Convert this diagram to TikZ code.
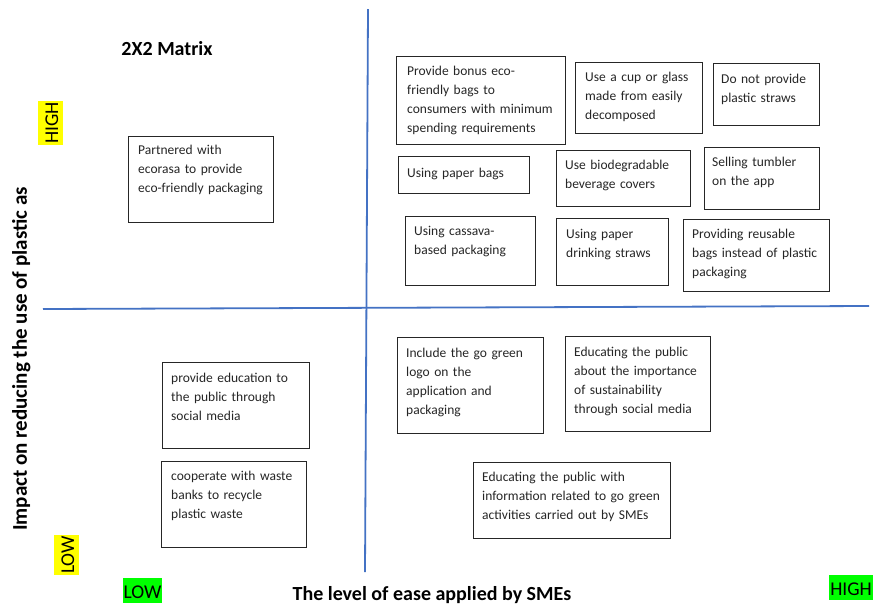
\documentclass[tikz,border=0pt]{standalone}
\usepackage{fontspec}
\setmainfont{Carlito}
\definecolor{axisblue}{HTML}{4472C4}
\definecolor{hlyellow}{HTML}{FFFF00}
\definecolor{hlgreen}{HTML}{00FF00}
\tikzset{
  card/.style={draw=black!85, line width=1pt, inner sep=0pt, anchor=north west, fill=white},
  cardtext/.style={anchor=base west, inner sep=0pt, align=left, text width=#1,
    font=\fontsize{13.5}{19.3}\selectfont, text=black!85},
  axisline/.style={draw=axisblue, line width=1.8pt},
  hl/.style={fill=#1, inner xsep=1pt, inner ysep=0pt, text height=20pt, text depth=5pt,
    font=\fontsize{19.5}{20}\selectfont},
  heading/.style={inner sep=0pt, font=\fontsize{20}{24}\selectfont\bfseries},
}
\begin{document}
\begin{tikzpicture}[x=1pt,y=-1pt]
\useasboundingbox[fill=white] (0,0) rectangle (873,606);

% axes
\coordinate (vtop) at (368,9);
\coordinate (vbot) at (365,572);
\coordinate (hleft) at (43,309);
\coordinate (hright) at (869,306);
\draw[axisline] (vtop) -- (vbot);
\draw[axisline] (hleft) -- (hright);

% title and axis labels
\node[heading, anchor=base] (title) at (167,55) {2X2 Matrix};
\node[heading, anchor=base] (xlabel) at (432,600) {The level of ease applied by SMEs};
\node[heading, anchor=base, rotate=90, font=\fontsize{21}{24}\selectfont\bfseries] (ylabel) at (27,359) {Impact on reducing the use of plastic as};

% highlighted scale labels
\node[hl=hlyellow, rotate=90, anchor=base] (yhigh) at (58,123) {HIGH};
\node[hl=hlyellow, rotate=90, anchor=base] (ylow) at (74,555) {LOW};
\node[hl=hlgreen, anchor=base] (xlow) at (142.5,598) {LOW};
\node[hl=hlgreen, anchor=base] (xhigh) at (851,595) {HIGH};

% cards: upper left
\node[card, minimum width=145, minimum height=86] (b1) at (128,136) {};
\node[cardtext=135pt] (t1) at ([xshift=10pt,yshift=-18pt]b1.north west) {Partnered with\\ecorasa to provide\\eco-friendly packaging};

% cards: upper right
\node[card, minimum width=169, minimum height=88] (b2) at (396,56) {};
\node[cardtext=158pt] (t2) at ([xshift=11pt,yshift=-19pt]b2.north west) {Provide bonus eco-\\friendly bags to\\consumers with minimum\\spending requirements};

\node[card, minimum width=127, minimum height=71] (b3) at (575,62) {};
\node[cardtext=117pt] (t3) at ([xshift=10pt,yshift=-19pt]b3.north west) {Use a cup or glass\\made from easily\\decomposed};

\node[card, minimum width=106, minimum height=62] (b4) at (713,63) {};
\node[cardtext=98pt] (t4) at ([xshift=8pt,yshift=-20pt]b4.north west) {Do not provide\\plastic straws};

\node[card, minimum width=131, minimum height=37] (b5) at (398,156) {};
\node[cardtext=122pt] (t5) at ([xshift=9pt,yshift=-21pt]b5.north west) {Using paper bags};

\node[card, minimum width=134, minimum height=56] (b6) at (556,150) {};
\node[cardtext=125pt] (t6) at ([xshift=9pt,yshift=-19pt]b6.north west) {Use biodegradable\\beverage covers};

\node[card, minimum width=115, minimum height=62] (b7) at (704,147) {};
\node[cardtext=107pt] (t7) at ([xshift=8pt,yshift=-19pt]b7.north west) {Selling tumbler\\on the app};

\node[card, minimum width=130, minimum height=69] (b8) at (405,216) {};
\node[cardtext=121pt] (t8) at ([xshift=9pt,yshift=-19pt]b8.north west) {Using cassava-\\based packaging};

\node[card, minimum width=112, minimum height=67] (b9) at (556,218) {};
\node[cardtext=102pt] (t9) at ([xshift=10pt,yshift=-20pt]b9.north west) {Using paper\\drinking straws};

\node[card, minimum width=146, minimum height=72] (b10) at (683,219) {};
\node[cardtext=137pt] (t10) at ([xshift=9pt,yshift=-19pt]b10.north west) {Providing reusable\\bags instead of plastic\\packaging};

% cards: lower left
\node[card, minimum width=147, minimum height=86] (b11) at (162,362) {};
\node[cardtext=138pt] (t11) at ([xshift=9pt,yshift=-20pt]b11.north west) {provide education to\\the public through\\social media};

\node[card, minimum width=145, minimum height=86] (b12) at (161,461) {};
\node[cardtext=135pt] (t12) at ([xshift=10pt,yshift=-19pt]b12.north west) {cooperate with waste\\banks to recycle\\plastic waste};

% cards: lower right
\node[card, minimum width=146, minimum height=96] (b13) at (397,337) {};
\node[cardtext=137pt] (t13) at ([xshift=9pt,yshift=-20pt]b13.north west) {Include the go green\\logo on the\\application and\\packaging};

\node[card, minimum width=145, minimum height=95] (b14) at (565,336) {};
\node[cardtext=136pt] (t14) at ([xshift=9pt,yshift=-20pt]b14.north west) {Educating the public\\about the importance\\of sustainability\\through social media};

\node[card, minimum width=197, minimum height=76] (b15) at (473,462) {};
\node[cardtext=188pt] (t15) at ([xshift=9pt,yshift=-19pt]b15.north west) {Educating the public with\\information related to go green\\activities carried out by SMEs};
\end{tikzpicture}
\end{document}
